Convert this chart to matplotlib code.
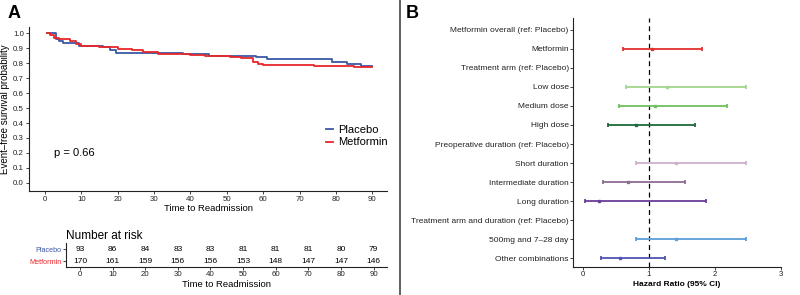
import matplotlib.pyplot as plt
import numpy as np
from matplotlib.lines import Line2D

plt.rcParams['font.family'] = ['Liberation Sans', 'DejaVu Sans']

# Kaplan-Meier steps
placebo_t = [0.5, 3, 4, 5, 9.5, 16, 18, 19.5, 38, 45, 58, 61, 79, 83, 87, 89.9]
placebo_s = [1.0, 0.96, 0.95, 0.935, 0.915, 0.905, 0.885, 0.869, 0.862, 0.849, 0.838, 0.824,
             0.809, 0.793, 0.780, 0.780]
metformin_t = [0.5, 1.5, 2.5, 4, 7, 8.5, 10, 15, 17, 20, 24, 27, 31, 40, 44, 51, 54, 57.3,
               58.6, 60, 74, 85, 89.9]
metformin_s = [1.0, 0.985, 0.97, 0.963, 0.945, 0.93, 0.915, 0.91, 0.905, 0.895, 0.885, 0.875,
               0.862, 0.855, 0.845, 0.838, 0.831, 0.809, 0.793, 0.787, 0.780, 0.771, 0.771]

risk_times = [0, 10, 20, 30, 40, 50, 60, 70, 80, 90]
risk_placebo = [93, 86, 84, 83, 83, 81, 81, 81, 80, 79]
risk_metformin = [170, 161, 159, 156, 156, 153, 148, 147, 147, 146]

# Forest plot
forest_labels = ['Metformin overall (ref: Placebo)', 'Metformin', 'Treatment arm (ref: Placebo)',
                 'Low dose', 'Medium dose', 'High dose', 'Preoperative duration (ref: Placebo)',
                 'Short duration', 'Intermediate duration', 'Long duration',
                 'Treatment arm and duration (ref: Placebo)', '500mg and 7\u201328 day',
                 'Other combinations']
forest_hr = [np.nan, 1.05, np.nan, 1.27, 1.09, 0.80, np.nan, 1.41, 0.69, 0.25, np.nan, 1.41, 0.57]
forest_lo = [np.nan, 0.61, np.nan, 0.66, 0.55, 0.38, np.nan, 0.80, 0.31, 0.04, np.nan, 0.80, 0.27]
forest_hi = [np.nan, 1.80, np.nan, 2.48, 2.18, 1.70, np.nan, 2.48, 1.55, 1.86, np.nan, 2.48, 1.25]
forest_colors = ['k', '#e3302f', 'k', '#a3d68e', '#6fbf5c', '#1e6a3a', 'k', '#cdb0cb',
                 '#8f6b93', '#6a3d9a', 'k', '#5a9fd8', '#4f55b3']

blue = '#3b58a6'
red = '#e8262a'
axcol = '#222222'

fig = plt.figure(figsize=(8, 2.95), dpi=100)

# ---- Panel A: KM curves
ax = fig.add_axes([0.036, 0.353, 0.448, 0.555])
ax.step(placebo_t, placebo_s, where='post', color=blue, lw=1.3)
ax.step(metformin_t, metformin_s, where='post', color=red, lw=1.3)
ax.set_xlim(-4.4, 94.1)
ax.set_ylim(-0.053, 1.04)
ax.set_xticks(risk_times)
ax.set_yticks(np.arange(0, 1.01, 0.1))
ax.set_yticklabels(['%.1f' % v for v in np.arange(0, 1.01, 0.1)])
ax.tick_params(labelsize=5.7, length=2, width=0.6, pad=1.5, colors=axcol)
for s in ['top', 'right']:
    ax.spines[s].set_visible(False)
for s in ['left', 'bottom']:
    ax.spines[s].set_color(axcol)
    ax.spines[s].set_linewidth(0.8)
ax.set_xlabel('Time to Readmission', fontsize=6.8, labelpad=1)
ax.set_ylabel('Event\u2013free survival probability', fontsize=7, labelpad=2)
ax.text(2.5, 0.2, 'p = 0.66', fontsize=8, ha='left', va='center')
handles = [Line2D([], [], color=blue, lw=1.3), Line2D([], [], color=red, lw=1.3)]
ax.legend(handles, ['Placebo', 'Metformin'], loc='center left', bbox_to_anchor=(0.8, 0.335),
          frameon=False, fontsize=8, handlelength=0.7, handletextpad=0.4, labelspacing=0.25)

# ---- risk table
rt = fig.add_axes([0.0825, 0.095, 0.4015, 0.081])
for x, n in zip(risk_times, risk_placebo):
    rt.text(x, 2, str(n), ha='center', va='center', fontsize=6)
for x, n in zip(risk_times, risk_metformin):
    rt.text(x, 1, str(n), ha='center', va='center', fontsize=6)
rt.set_xlim(-4.3, 94.2)
rt.set_ylim(0.5, 2.5)
rt.set_xticks(risk_times)
rt.set_yticks([2, 1])
rt.set_yticklabels(['Placebo', 'Metformin'])
rt.tick_params(labelsize=5.7, length=2, width=0.6, pad=1, colors=axcol)
rt.tick_params(axis='y', labelsize=5.2)
for lab, c in zip(rt.get_yticklabels(), [blue, red]):
    lab.set_color(c)
for s in ['top', 'right']:
    rt.spines[s].set_visible(False)
for s in ['left', 'bottom']:
    rt.spines[s].set_color(axcol)
    rt.spines[s].set_linewidth(0.8)
rt.set_xlabel('Time to Readmission', fontsize=6.8, labelpad=1)
rt.set_title('Number at risk', fontsize=8.5, loc='left', pad=3)

# ---- Panel B: forest plot
fx = fig.add_axes([0.716, 0.095, 0.26, 0.844])
ypos = np.arange(len(forest_labels), 0, -1)
fx.axvline(1, color='k', lw=0.9, ls=(0, (4, 3)), zorder=1)
for y, hr, lo, hi, c in zip(ypos, forest_hr, forest_lo, forest_hi, forest_colors):
    if np.isnan(hr):
        continue
    fx.errorbar(hr, y, xerr=[[hr - lo], [hi - hr]], fmt='s', color=c, ms=2, lw=1.3,
                capsize=1.5, capthick=1.3, zorder=2)
fx.set_xlim(-0.15, 3.0)
fx.set_ylim(0.53, 13.63)
fx.set_xticks([0, 1, 2, 3])
fx.set_yticks(ypos)
fx.set_yticklabels(forest_labels)
fx.tick_params(labelsize=5.7, length=2, width=0.6, pad=1, colors=axcol)
fx.tick_params(axis='y', labelsize=6)
for s in ['top', 'right']:
    fx.spines[s].set_visible(False)
for s in ['left', 'bottom']:
    fx.spines[s].set_color(axcol)
    fx.spines[s].set_linewidth(0.8)
fx.set_xlabel('Hazard Ratio (95% CI)', fontsize=6, fontweight='bold', labelpad=2)

# divider and panel letters
fig.add_artist(Line2D([0.5, 0.5], [0, 1], color='#444444', lw=1.2))
fig.text(0.009, 0.955, 'A', fontsize=13, fontweight='bold', va='center', ha='left')
fig.text(0.507, 0.955, 'B', fontsize=13, fontweight='bold', va='center', ha='left')

fig.savefig('out.png', dpi=100)
